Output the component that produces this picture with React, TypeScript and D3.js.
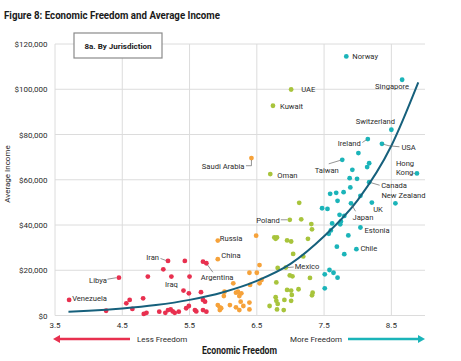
import * as d3 from "d3";

type Pt = [number, number, string?];

// economic freedom score, average income (USD), optional country label
const leastFree: Pt[] = [
  [3.71, 6900, "Venezuela"], [4.45, 16700, "Libya"], [4.26, 2100], [4.56, 5400], [4.61, 6900],
  [4.65, 2900], [4.81, 7600], [4.82, 700], [4.86, 1200], [4.88, 17200], [5.05, 1700],
  [5.11, 20400], [5.18, 24100, "Iran"], [5.14, 1200], [5.18, 2400], [5.22, 2700], [5.25, 1800],
  [5.23, 17200, "Iraq"], [5.28, 1200], [5.34, 1700], [5.41, 11000], [5.43, 24100], [5.45, 3200],
  [5.49, 4200], [5.49, 9800], [5.5, 17200], [5.58, 2400], [5.6, 1800], [5.67, 10300],
  [5.7, 23800], [5.75, 23100, "Argentina"], [5.7, 6900], [5.73, 6100], [5.7, 2400], [5.75, 1700],
];

const secondQuartile: Pt[] = [
  [6.42, 69600, "Saudi Arabia"], [5.92, 33100, "Russia"], [5.92, 24900, "China"], [6.49, 35300],
  [6.39, 18900], [6.5, 18900], [6.54, 22300], [6.57, 15700], [6.54, 14200], [6.15, 14200],
  [6.02, 10500], [6.01, 8600], [6.19, 10100], [6.22, 10500], [6.24, 8600], [6.27, 9800],
  [5.92, 4600], [5.95, 3600], [5.95, 2400], [5.97, 3200], [6.1, 4600], [6.19, 3600],
  [6.24, 2400], [6.3, 4200], [6.39, 5700], [6.39, 2700], [6.26, 6100], [6.4, 13500],
];

const thirdQuartile: Pt[] = [
  [6.74, 92700, "Kuwait"], [7.01, 99900, "UAE"], [6.7, 62500, "Oman"], [6.99, 42300, "Poland"],
  [7.13, 49800], [7.16, 42500], [7.31, 40400], [7.32, 38100], [7.26, 33900], [6.76, 34500],
  [6.8, 34500], [6.78, 33900], [6.95, 33200], [7.01, 32700], [7.04, 27200], [7.19, 26100],
  [6.93, 21200, "Mexico"], [6.81, 21000], [6.99, 17700], [7.03, 17300], [6.79, 14600],
  [7.29, 16600], [7.12, 11600], [6.95, 11300], [7.01, 11000], [7.02, 9100], [7.33, 10100],
  [7.32, 8900], [6.78, 8100], [6.79, 6500], [6.81, 5100], [6.91, 6900], [7.01, 6500],
  [6.69, 4200], [6.8, 2700], [6.9, 2400],
];

const mostFree: Pt[] = [
  [7.83, 114500, "Norway"], [8.66, 104200, "Singapore"], [8.5, 82100, "Switzerland"],
  [8.15, 78000, "Ireland"], [8.36, 75900, "USA"], [8.01, 71800], [7.77, 68800, "Taiwan"],
  [8.17, 67300], [8.14, 65600], [7.92, 64400], [8.88, 62800, "Hong Kong"], [7.88, 60700],
  [7.99, 60400], [8.17, 58900, "Canada"], [7.89, 56600], [7.59, 53800], [7.68, 54200],
  [7.79, 54500], [8.04, 52900], [7.7, 50700], [8.56, 49600, "New Zealand"], [8.21, 49900, "UK"],
  [7.9, 49600, "Japan"], [7.47, 47400], [7.55, 47100], [7.73, 44500], [7.8, 44000],
  [7.75, 41600], [7.74, 40300], [7.62, 40700], [7.6, 37600], [7.57, 36100],
  [8.04, 38900, "Estonia"], [7.86, 35400], [7.69, 30400], [7.98, 29300, "Chile"], [7.8, 27100],
  [7.58, 20100], [7.64, 18900], [7.51, 18200], [7.7, 16700], [7.51, 12000],
];

// exponential trend line
const trendX = [3.7, 4.0, 4.5, 5.0, 5.5, 6.0, 6.5, 7.0, 7.5, 8.0, 8.5, 8.9];
const trendY = [1700, 2100, 3100, 4600, 6900, 10300, 15300, 22800, 35000, 51000, 75000, 103000];

const xTicks = [3.5, 4.5, 5.5, 6.5, 7.5, 8.5];
const yTicks = [0, 20000, 40000, 60000, 80000, 100000, 120000];

const W = 461;
const H = 361;
const FONT = "Roboto, 'Open Sans', sans-serif";
const TEXT = "#2b2b2b";
const GRID = "#dcdcdc";
const RED = "#e8304f";
const ORANGE = "#f6a23a";
const GREEN = "#a8c43c";
const TEAL = "#1bb4b9";
const TREND = "#16607c";

// label placement relative to the dot: text anchor point and optional leader polyline
type Layout = { dx: number; dy: number; anchor: "start" | "middle" | "end"; leader?: [number, number][] };
const LABEL_LAYOUT: Record<string, Layout> = {
  Venezuela: { dx: 3, dy: 1.5, anchor: "start" },
  Libya: { dx: -12, dy: 5, anchor: "end", leader: [[-11.5, 1.5], [-2.5, 0]] },
  Iran: { dx: -9, dy: -1, anchor: "end", leader: [[-7.5, -2.5], [-2, -0.5]] },
  Iraq: { dx: 0, dy: 10.5, anchor: "middle" },
  Argentina: { dx: -5.5, dy: 17, anchor: "start", leader: [[1, 1.5], [6.5, 9]] },
  Russia: { dx: 2, dy: 0.5, anchor: "start" },
  China: { dx: 3.5, dy: -1.5, anchor: "start" },
  "Saudi Arabia": { dx: -7, dy: 10.5, anchor: "end", leader: [[-5.5, 7.7], [0, 7.7], [0, 2]] },
  Oman: { dx: 7, dy: 3.5, anchor: "start" },
  Kuwait: { dx: 7, dy: 2.8, anchor: "start" },
  UAE: { dx: 10, dy: 3, anchor: "start" },
  Poland: { dx: -10, dy: 2.8, anchor: "end", leader: [[-9, 0], [-2.5, 0]] },
  Mexico: { dx: 9, dy: 1.8, anchor: "start", leader: [[2, 0], [8, -0.5]] },
  Taiwan: { dx: -15.5, dy: 12.8, anchor: "middle", leader: [[-13.5, 4], [-2, 0.5]] },
  Norway: { dx: 6, dy: 2.8, anchor: "start" },
  Singapore: { dx: -10, dy: 9.5, anchor: "middle" },
  Switzerland: { dx: -16, dy: -6.2, anchor: "middle" },
  Ireland: { dx: -7, dy: 6.5, anchor: "end", leader: [[-5.5, 3.5], [-1.5, 0.8]] },
  USA: { dx: 19.5, dy: 5.8, anchor: "start", leader: [[1.5, 0.5], [7, 2], [17.5, 3]] },
  Canada: { dx: 12, dy: 5.6, anchor: "start", leader: [[2, 0.5], [10.5, 3]] },
  "New Zealand": { dx: -14, dy: -4.8, anchor: "start" },
  UK: { dx: 1.3, dy: 9.6, anchor: "start" },
  Japan: { dx: 1.5, dy: 16.5, anchor: "start", leader: [[1, 2], [4.5, 8]] },
  Estonia: { dx: 4, dy: 6, anchor: "start" },
  Chile: { dx: 4, dy: 2.2, anchor: "start" },
};

const x = d3.scaleLinear().domain([3.5, 9]).range([55, 425]);
const y = d3.scaleLinear().domain([0, 120000]).range([315.5, 44]);
const fmtMoney = (v: number) => "$" + d3.format(",")(v);

const groups: { pts: Pt[]; color: string }[] = [
  { pts: leastFree, color: RED },
  { pts: secondQuartile, color: ORANGE },
  { pts: thirdQuartile, color: GREEN },
  { pts: mostFree, color: TEAL },
];

export default function App() {
  const trend = d3
    .line<number>()
    .x((_, i) => x(trendX[i]))
    .y((d) => y(d))
    .curve(d3.curveMonotoneX)(trendY);

  const labeled = groups.flatMap((g) => g.pts.filter((p) => p[2]));

  return (
    <svg
      width={W}
      height={H}
      style={{ position: "absolute", left: 0, top: 0, background: "#fff" }}
      fontFamily={FONT}
    >
      <text x={4} y={18.5} fontSize={11} fontWeight={700} fill="#1a1a1a" textLength={216} lengthAdjust="spacingAndGlyphs">
        Figure 8: Economic Freedom and Average Income
      </text>

      {/* grid */}
      {yTicks.map((t) => (
        <line key={"gy" + t} x1={x(3.5)} x2={x(9)} y1={y(t)} y2={y(t)} stroke={GRID} strokeWidth={1} />
      ))}
      {xTicks.map((t) => (
        <line key={"gx" + t} x1={x(t)} x2={x(t)} y1={y(120000)} y2={y(0)} stroke={GRID} strokeWidth={1} />
      ))}

      {/* axes labels */}
      {yTicks.map((t) => (
        <text key={"ty" + t} x={47.5} y={y(t) + 3} fontSize={8} fill={TEXT} textAnchor="end">
          {fmtMoney(t)}
        </text>
      ))}
      {xTicks.map((t) => (
        <text key={"tx" + t} x={x(t)} y={328.3} fontSize={8} fill={TEXT} textAnchor="middle">
          {t.toFixed(1)}
        </text>
      ))}
      <text transform="translate(10,174) rotate(-90)" fontSize={8} fill={TEXT} textAnchor="middle">
        Average Income
      </text>
      <text x={239.5} y={353.5} fontSize={10} fontWeight={700} fill="#1a1a1a" textAnchor="middle" textLength={75} lengthAdjust="spacingAndGlyphs">
        Economic Freedom
      </text>

      {/* freedom arrows */}
      <line x1={58} x2={130} y1={339} y2={339} stroke={RED} strokeWidth={2.5} />
      <path d="M53,339 L60,335 L60,343 Z" fill={RED} />
      <text x={137} y={341.8} fontSize={8} fill={TEXT}>Less Freedom</text>
      <line x1={348} x2={419} y1={339} y2={339} stroke={TEAL} strokeWidth={2.5} />
      <path d="M425,339 L418,335 L418,343 Z" fill={TEAL} />
      <text x={342} y={341.8} fontSize={8} fill={TEXT} textAnchor="end">More Freedom</text>

      {/* panel tag */}
      <rect x={74} y={33} width={88} height={25} fill="#fff" stroke="#8a8a8a" strokeWidth={1.2} />
      <text x={118} y={48.8} fontSize={8} fontWeight={700} fill="#1a1a1a" textAnchor="middle">
        8a. By Jurisdiction
      </text>

      {/* points */}
      {groups.map((g, gi) =>
        g.pts.map((p, i) => (
          <circle key={gi + "-" + i} cx={x(p[0])} cy={y(p[1])} r={2.4} fill={g.color} />
        )),
      )}

      {/* trend */}
      <path d={trend ?? ""} fill="none" stroke={TREND} strokeWidth={2} />

      {/* country labels */}
      {labeled.map((p) => {
        const name = p[2] as string;
        const L = LABEL_LAYOUT[name];
        if (!L) return null;
        const cx = x(p[0]);
        const cy = y(p[1]);
        const single = name !== "Hong Kong";
        return (
          <g key={name}>
            {L.leader ? (
              <polyline
                points={L.leader.map(([a, b]) => `${cx + a},${cy + b}`).join(" ")}
                fill="none"
                stroke="#666"
                strokeWidth={0.7}
              />
            ) : null}
            {single ? (
              <text x={cx + L.dx} y={cy + L.dy} fontSize={7.6} fill={TEXT} textAnchor={L.anchor}>
                {name}
              </text>
            ) : null}
          </g>
        );
      })}
      {labeled
        .filter((p) => p[2] === "Hong Kong")
        .map((p) => {
          const cx = x(p[0]);
          const cy = y(p[1]);
          return (
            <g key="hk">
              <polyline points={`${cx - 5.5},${cy - 0.5} ${cx - 2},${cy}`} fill="none" stroke="#666" strokeWidth={0.7} />
              <text x={cx - 21} y={cy - 7} fontSize={7.6} fill={TEXT}>Hong</text>
              <text x={cx - 21} y={cy + 2} fontSize={7.6} fill={TEXT}>Kong</text>
            </g>
          );
        })}
    </svg>
  );
}
